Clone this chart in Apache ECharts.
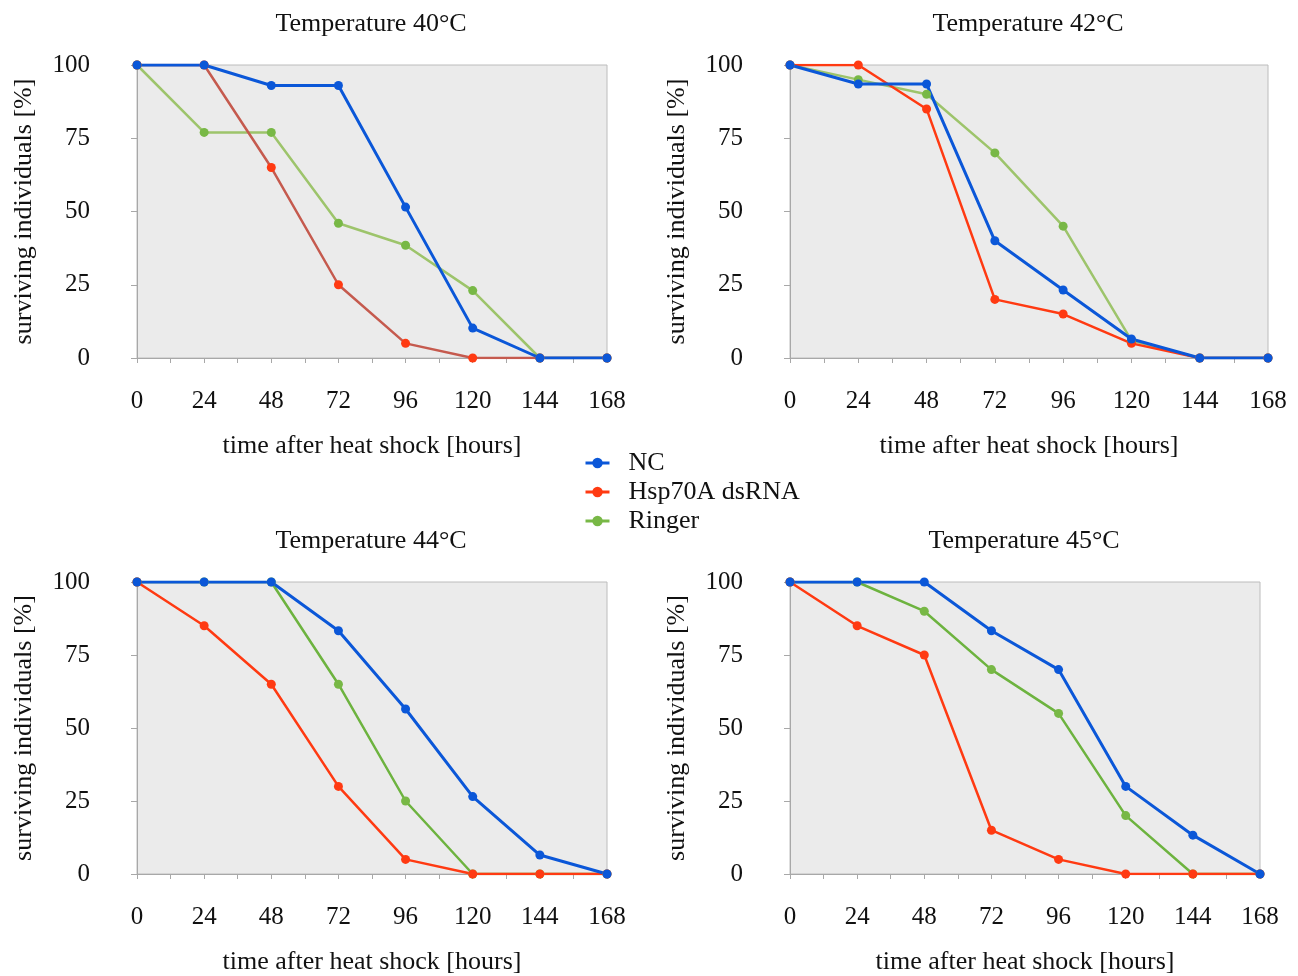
<!DOCTYPE html>
<html>
<head>
<meta charset="utf-8">
<script src="https://cdn.jsdelivr.net/npm/echarts@6/dist/echarts.min.js"></script>
<style>
  html, body { margin: 0; padding: 0; background: #fff; }
  #chart { width: 1298px; height: 976px; }
</style>
</head>
<body>
<div id="chart"></div>
<script>
// hours after heat shock
var hours = [0, 24, 48, 72, 96, 120, 144, 168]
var seriesNames = ['NC', 'Hsp70A dsRNA', 'Ringer']
var panelTitles = ['Temperature 40°C', 'Temperature 42°C', 'Temperature 44°C', 'Temperature 45°C']

// surviving individuals [%]
var nc40 = [100, 100, 93, 93, 51.5, 10.2, 0, 0]
var hsp40 = [100, 100, 65, 25, 5, 0, 0, 0]
var ringer40 = [100, 77, 77, 46, 38.5, 23, 0, 0]

var nc42 = [100, 93.5, 93.5, 40, 23.2, 6.5, 0, 0]
var hsp42 = [100, 100, 85, 20, 15, 5, 0, 0]
var ringer42 = [100, 95, 90, 70, 45, 6, 0, 0]

var nc44 = [100, 100, 100, 83.3, 56.5, 26.5, 6.5, 0]
var hsp44 = [100, 85, 65, 30, 5, 0, 0, 0]
var ringer44 = [100, 100, 100, 65, 25, 0, 0, 0]

var nc45 = [100, 100, 100, 83.3, 70, 30, 13.3, 0]
var hsp45 = [100, 85, 75, 15, 5, 0, 0, 0]
var ringer45 = [100, 100, 90, 70, 55, 20, 0, 0]

var panelData = [
  [nc40, hsp40, ringer40],
  [nc42, hsp42, ringer42],
  [nc44, hsp44, ringer44],
  [nc45, hsp45, ringer45]
]

var font = 'Liberation Serif'
var markerColors = ['#0b57d8', '#ff3a12', '#78b846']
// line colours differ a bit per panel in the original
var lineColors = [
  ['#0b57d8', '#c55a4e', '#9dc46b'],
  ['#0b57d8', '#ff3a12', '#9dc46b'],
  ['#0b57d8', '#ff3a12', '#6db33f'],
  ['#0b57d8', '#ff3a12', '#6db33f']
]
var lineWidths = [3, 2.5, 2.5]

var grids = [
  { left: 137, top: 65, width: 470, height: 293 },
  { left: 790, top: 65, width: 478, height: 293 },
  { left: 137, top: 582, width: 470, height: 294 },
  { left: 790, top: 582, width: 470, height: 294 }
]

function zip(xs, ys) {
  return xs.map(function (x, i) { return [x, ys[i]] })
}

var option = {
  animation: false,
  textStyle: { fontFamily: font, color: '#111' },
  title: [],
  grid: [],
  xAxis: [],
  yAxis: [],
  series: [],
  legend: {
    left: 579,
    top: 445,
    orient: 'vertical',
    itemWidth: 24,
    itemHeight: 13,
    itemGap: 3,
    textStyle: { fontFamily: font, fontSize: 26, color: '#111', lineHeight: 26, padding: [0, 0, 0, 14] },
    data: seriesNames.map(function (n, i) {
      return {
        name: n,
        itemStyle: { color: markerColors[i] },
        lineStyle: { color: markerColors[i], width: 3 }
      }
    })
  }
}

grids.forEach(function (g, p) {
  option.grid.push({
    left: g.left, top: g.top, width: g.width, height: g.height,
    show: true,
    backgroundColor: '#ebebeb',
    borderColor: '#bcbcbc',
    borderWidth: 1
  })
  option.title.push({
    text: panelTitles[p],
    left: g.left + g.width / 2 - 6,
    top: g.top - 59,
    textAlign: 'center',
    textStyle: { fontFamily: font, fontSize: 26, fontWeight: 'normal', color: '#111' }
  })
  option.xAxis.push({
    type: 'value',
    gridIndex: p,
    min: 0,
    max: 168,
    interval: 24,
    name: 'time after heat shock [hours]',
    nameLocation: 'middle',
    nameGap: 75,
    nameTextStyle: { fontFamily: font, fontSize: 26, color: '#111' },
    axisLine: { onZero: false, lineStyle: { color: '#a8a8a8', width: 1 } },
    axisTick: { show: true, length: 5, lineStyle: { color: '#a8a8a8' } },
    minorTick: { show: true, splitNumber: 2, length: 5, lineStyle: { color: '#a8a8a8' } },
    splitLine: { show: false },
    axisLabel: { fontFamily: font, fontSize: 25, color: '#111', margin: 31 }
  })
  option.yAxis.push({
    type: 'value',
    gridIndex: p,
    min: 0,
    max: 100,
    interval: 25,
    name: 'surviving individuals [%]',
    nameLocation: 'middle',
    nameGap: 100,
    nameTextStyle: { fontFamily: font, fontSize: 26, color: '#111' },
    axisLine: { show: true, lineStyle: { color: '#a8a8a8', width: 1 } },
    axisTick: { show: true, length: 6, lineStyle: { color: '#a8a8a8' } },
    splitLine: { show: false },
    axisLabel: { fontFamily: font, fontSize: 25, color: '#111', margin: 47 }
  })
  // draw Ringer first, NC last so blue stays on top
  ;[2, 1, 0].forEach(function (s) {
    option.series.push({
      name: seriesNames[s],
      type: 'line',
      xAxisIndex: p,
      yAxisIndex: p,
      data: zip(hours, panelData[p][s]),
      symbol: 'circle',
      symbolSize: 9,
      itemStyle: { color: markerColors[s] },
      lineStyle: { color: lineColors[p][s], width: lineWidths[s] }
    })
  })
})

var myChart = echarts.init(document.getElementById('chart'))
myChart.setOption(option)
</script>
</body>
</html>
